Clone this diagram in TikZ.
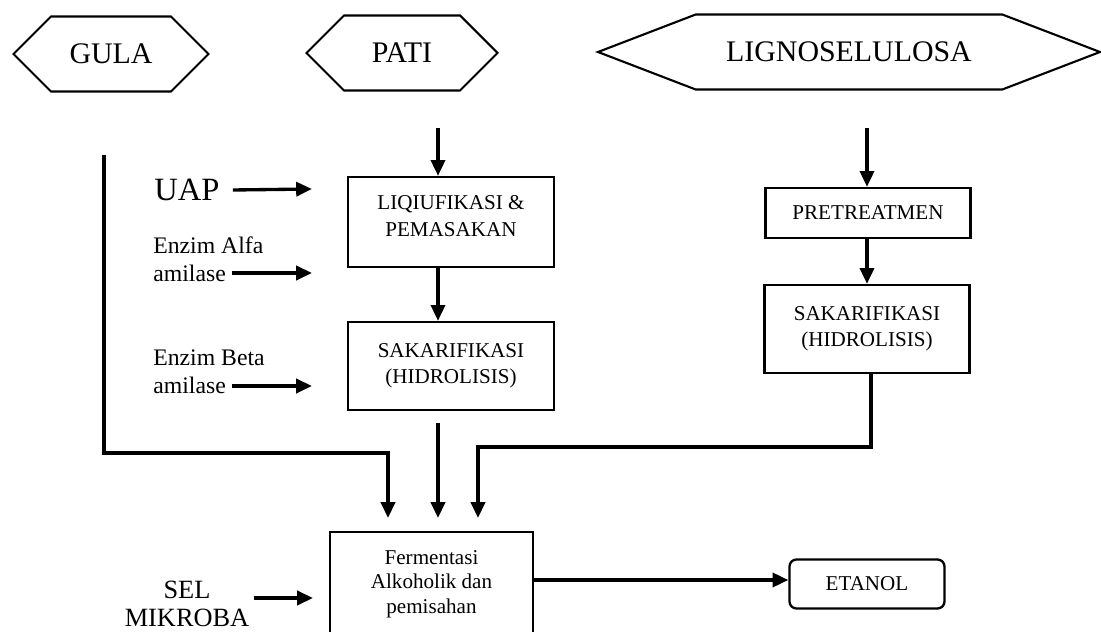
\documentclass[tikz,border=0pt]{standalone}
\usepackage{fontspec}
\setmainfont{Liberation Serif}
\usetikzlibrary{shapes.symbols,arrows.meta}

\tikzset{
	bahan/.style={draw, line width=1.2pt, shape=signal, signal to=west and east, signal pointer angle=90, minimum height=15mm, inner sep=0pt, font=\fontsize{17}{19}\selectfont},
	proses/.style={draw, line width=1.3pt, align=center, inner sep=0pt, font=\fontsize{12}{15}\selectfont},
	masuk/.style={align=left, inner sep=0pt, font=\fontsize{13.5}{16}\selectfont},
	alir/.style={line width=1.9pt, -{Triangle[length=9pt,width=8pt]}},
	garis/.style={line width=1.9pt}
}

\begin{document}
\begin{tikzpicture}[x=0.2mm,y=-0.2mm]
	\clip (0,0) rectangle (1101,632);
	
	\node[bahan, minimum width=39mm] (gula) at (111,54) {GULA};
	\node[bahan, minimum width=38.2mm] (pati) at (402,53) {PATI};
	\node[bahan, minimum width=100.4mm, signal pointer angle=42] (ligno) at (849,52) {LIGNOSELULOSA};
	
	\node[proses, minimum width=41.2mm, minimum height=18mm] (liq) at (451,222) {LIQIUFIKASI \&\\PEMASAKAN\\[-8pt]};
	\node[proses, minimum width=41.2mm, minimum height=17.6mm] (sakaL) at (451,366) {SAKARIFIKASI\\(HIDROLISIS)};
	\node[proses, minimum width=41mm, minimum height=10mm] (pre) at (868,213) {PRETREATMEN};
	\node[proses, minimum width=41mm, minimum height=17.6mm] (sakaR) at (867,329) {SAKARIFIKASI\\(HIDROLISIS)};
	\node[proses, minimum width=40.6mm, minimum height=20.8mm, font=\fontsize{12}{14}\selectfont] (ferm) at (431.5,584) {Fermentasi\\Alkoholik dan\\pemisahan};
	\node[proses, rounded corners=4pt, minimum width=31mm, minimum height=9.8mm] (etanol) at (867,584) {ETANOL};
	
	\node[masuk, font=\fontsize{18.5}{20}\selectfont] (uap) at (187,190) {UAP};
	\node[masuk, anchor=west] (alfa) at (153,259) {Enzim Alfa\\amilase};
	\node[masuk, anchor=west] (beta) at (153,372) {Enzim Beta\\amilase};
	\node[masuk, align=center, font=\fontsize{15}{16}\selectfont] (sel) at (187,604) {SEL\\MIKROBA};
	
	\coordinate (patiIn) at (438,128);
	\coordinate (lignoIn) at (867,128);
	\coordinate (gulaIn) at (104,155);
	\coordinate (alfaIn) at (232,273);
	\coordinate (betaIn) at (232,386);
	\coordinate (tengah) at (438,423);
	
	\draw[alir] (patiIn) -- (patiIn |- liq.north);
	\draw[alir] (liq.south -| patiIn) -- (sakaL.north -| patiIn);
	\draw[alir] (tengah) -- (438,518);
	\draw[alir] (lignoIn) -- (lignoIn |- pre.north);
	\draw[alir] (pre.south -| lignoIn) -- (sakaR.north -| lignoIn);
	
	\draw[alir] (uap.east) ++(13,0) -- (312,189);
	\draw[alir] (alfaIn) -- (312,273);
	\draw[alir] (betaIn) -- (312,386);
	\draw[alir] (sel.east) ++(4,-6) -- (313,598);
	
	\draw[garis, -{Triangle[length=9pt,width=8pt]}] (gulaIn) -- (104,453) -- (388,453) -- (388,518);
	\draw[garis, -{Triangle[length=9pt,width=8pt]}] (sakaR.south -| 871,0) -- (871,447) -- (478,447) -- (478,518);
	
	\draw[alir] (ferm.east |- 0,580) -- (etanol.west |- 0,580);
\end{tikzpicture}
\end{document}
